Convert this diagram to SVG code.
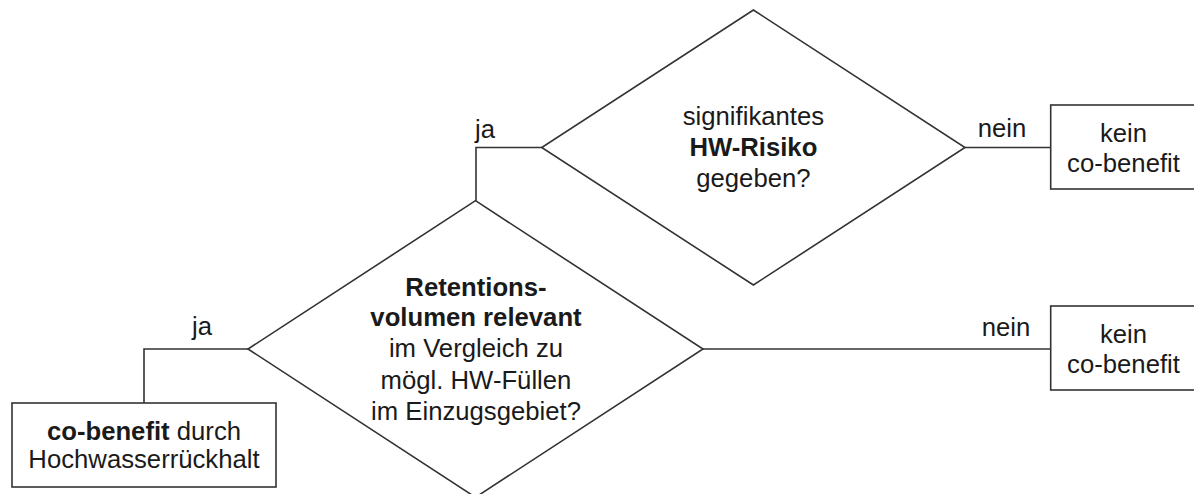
<svg xmlns="http://www.w3.org/2000/svg" width="1194" height="494" viewBox="0 0 1194 494">
<style>
.shape{fill:#fff;stroke:#333;stroke-width:1.6}
.conn{fill:none;stroke:#333;stroke-width:1.6}
text{font-family:"Liberation Sans",Arial,sans-serif;font-size:25.7px;fill:#1a1a1a;text-anchor:middle}
.b{font-weight:bold}
</style>
<rect width="1194" height="494" fill="#fff"/>
<g id="connectors">
<polyline class="conn" points="476,200.7 476,147.5 541.7,147.5"/>
<line class="conn" x1="965" y1="147.5" x2="1050.7" y2="147.5"/>
<line class="conn" x1="703" y1="349" x2="1050.7" y2="349"/>
<polyline class="conn" points="248,349 144,349 144,403"/>
<text x="485" y="138">ja</text>
<text x="1002" y="137">nein</text>
<text x="1006" y="336">nein</text>
<text x="202" y="335">ja</text>
</g>
<g id="d1">
<polygon class="shape" points="753.4,10 965,147.5 753.4,285 541.7,147.5"/>
<text x="753.4" y="125">signifikantes</text>
<text x="753.4" y="156" class="b">HW-Risiko</text>
<text x="753.4" y="187">gegeben?</text>
</g>
<g id="d2">
<polygon class="shape" points="475.5,200.7 703,349 475.5,497.3 248,349"/>
<text x="476" y="296" class="b">Retentions-</text>
<text x="476" y="326" class="b">volumen relevant</text>
<text x="476" y="357">im Vergleich zu</text>
<text x="476" y="389">mögl. HW-Füllen</text>
<text x="476" y="420">im Einzugsgebiet?</text>
</g>
<g id="box1">
<rect class="shape" x="1050.7" y="105" width="146" height="84"/>
<text x="1123.5" y="142">kein</text>
<text x="1123.5" y="172">co-benefit</text>
</g>
<g id="box2">
<rect class="shape" x="1050.7" y="306" width="146" height="84"/>
<text x="1123.5" y="343">kein</text>
<text x="1123.5" y="373">co-benefit</text>
</g>
<g id="box3">
<rect class="shape" x="12" y="403" width="264" height="84"/>
<text x="144" y="440"><tspan class="b">co-benefit</tspan> durch</text>
<text x="144" y="468">Hochwasserrückhalt</text>
</g>
</svg>
